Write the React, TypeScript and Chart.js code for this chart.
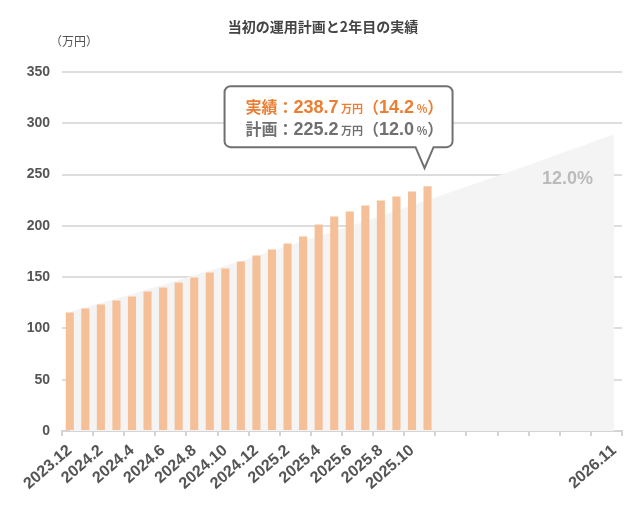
import { useEffect, useRef } from "react"
import { Chart, registerables } from "chart.js"

Chart.register(...registerables)

const chartTitle = "当初の運用計画と2年目の実績"
const unitLabel = "（万円）"

// 2023.12 〜 2026.11 の月
const months = [
  "2023.12",
  "2024.1", "2024.2", "2024.3", "2024.4", "2024.5", "2024.6",
  "2024.7", "2024.8", "2024.9", "2024.10", "2024.11", "2024.12",
  "2025.1", "2025.2", "2025.3", "2025.4", "2025.5", "2025.6",
  "2025.7", "2025.8", "2025.9", "2025.10", "2025.11", "2025.12",
  "2026.1", "2026.2", "2026.3", "2026.4", "2026.5", "2026.6",
  "2026.7", "2026.8", "2026.9", "2026.10", "2026.11",
]

const shownLabels = [
  "2023.12", "2024.2", "2024.4", "2024.6", "2024.8", "2024.10",
  "2024.12", "2025.2", "2025.4", "2025.6", "2025.8", "2025.10", "2026.11",
]

// 実績（万円）
const actualValues = [
  115.5, 119.4, 123.3, 127.2, 131.1, 136.0, 139.9, 144.7, 149.6, 154.5, 158.4, 165.2,
  171.1, 176.9, 182.7, 189.6, 201.3, 209.1, 214.0, 219.8, 224.7, 228.6, 233.4, 238.7,
]

// 当初の運用計画（万円）
const planValues = [
  116.0, 120.4, 124.7, 129.1, 133.6, 138.1, 142.6, 147.2, 151.8, 156.4, 161.0, 165.7,
  170.5, 175.2, 180.0, 184.9, 189.8, 194.7, 199.6, 204.6, 209.6, 214.7, 219.8, 225.2,
  230.4, 235.6, 240.8, 246.1, 251.4, 256.7, 262.1, 267.5, 272.9, 278.4, 283.9, 289.4,
]

const yMin = 0
const yMax = 350
const yStep = 50

const actualRate = "14.2"
const planRate = "12.0"

const jpFont = "'Noto Sans CJK JP', 'Noto Sans', sans-serif"
const numFont = "'Liberation Sans', Arial, sans-serif"
const orange = "#ED7D31"
const grey = "#707070"

const overlayPlugin = {
  id: "overlay",
  afterDraw(chart: any) {
    const { ctx } = chart
    const x = chart.scales.x
    const y = chart.scales.y
    ctx.save()

    // タイトル・単位
    ctx.fillStyle = "#444"
    ctx.font = `bold 14px ${jpFont}`
    ctx.textAlign = "center"
    ctx.textBaseline = "middle"
    ctx.fillText(chartTitle, 323, 27)
    ctx.fillStyle = "#555"
    ctx.font = `12px ${jpFont}`
    ctx.textAlign = "left"
    ctx.fillText(unitLabel, 50, 41)

    // 計画の利回り
    ctx.fillStyle = "#BBBBBB"
    ctx.font = `bold 18px ${numFont}`
    ctx.textAlign = "center"
    ctx.fillText(`${planRate}%`, x.getPixelForValue(32), y.getPixelForValue(246))

    // 吹き出し
    const last = actualValues.length - 1
    const bx = x.getPixelForValue(last) - 3
    const tipY = y.getPixelForValue(actualValues[last]) - 18
    const bottom = tipY - 21
    const top = bottom - 61
    const left = bx - 200
    const right = bx + 28
    const r = 6
    ctx.beginPath()
    ctx.moveTo(left + r, top)
    ctx.lineTo(right - r, top)
    ctx.arcTo(right, top, right, top + r, r)
    ctx.lineTo(right, bottom - r)
    ctx.arcTo(right, bottom, right - r, bottom, r)
    ctx.lineTo(bx + 9, bottom)
    ctx.lineTo(bx, tipY)
    ctx.lineTo(bx - 9, bottom)
    ctx.lineTo(left + r, bottom)
    ctx.arcTo(left, bottom, left, bottom - r, r)
    ctx.lineTo(left, top + r)
    ctx.arcTo(left, top, left + r, top, r)
    ctx.closePath()
    ctx.fillStyle = "#fff"
    ctx.fill()
    ctx.lineWidth = 2
    ctx.strokeStyle = grey
    ctx.stroke()

    const drawRun = (parts: [string, string][], color: string, px: number, py: number) => {
      ctx.textAlign = "left"
      ctx.textBaseline = "alphabetic"
      ctx.fillStyle = color
      for (const [text, font] of parts) {
        ctx.font = font
        ctx.fillText(text, px, py)
        px += ctx.measureText(text).width
      }
    }
    const big = `bold 18px ${numFont}`
    const jp = `bold 16px ${jpFont}`
    const small = `bold 11px ${jpFont}`
    drawRun(
      [["実績：", jp], [actualValues[last].toFixed(1), big], [" 万円", small], ["（", jp], [actualRate, big], [" %", small], ["）", jp]],
      orange, left + 21, top + 27,
    )
    drawRun(
      [["計画：", jp], [planValues[last].toFixed(1), big], [" 万円", small], ["（", jp], [planRate, big], [" %", small], ["）", jp]],
      grey, left + 21, top + 49,
    )
    ctx.restore()
  },
}

export default function App() {
  const chartRef = useRef<HTMLCanvasElement>(null)
  const chartInstance = useRef<Chart | null>(null)

  useEffect(() => {
    document.body.style.margin = "0"
    if (!chartRef.current) return
    if (chartInstance.current) chartInstance.current.destroy()

    chartInstance.current = new Chart(chartRef.current, {
      type: "bar",
      data: {
        labels: months,
        datasets: [
          {
            type: "bar",
            label: "実績",
            data: actualValues,
            backgroundColor: "#F5BF98",
            barPercentage: 0.52,
            categoryPercentage: 1,
            order: 0,
          },
          {
            type: "line",
            label: "計画",
            data: planValues,
            backgroundColor: "#F4F4F4",
            borderWidth: 0,
            pointRadius: 0,
            fill: "origin",
            order: 1,
          } as any,
        ],
      },
      options: {
        animation: false,
        responsive: true,
        maintainAspectRatio: false,
        layout: { padding: { top: 72, left: 8, right: 22, bottom: 0 } },
        plugins: {
          legend: { display: false },
          tooltip: { enabled: false },
          title: { display: false },
        },
        scales: {
          x: {
            offset: true,
            afterFit: (scale: any) => {
              scale.height = 76
            },
            border: { color: "#D4D4D4", width: 2 },
            grid: {
              offset: true,
              drawOnChartArea: false,
              drawTicks: true,
              tickLength: 5,
              lineWidth: 2,
              color: "#D4D4D4",
              tickColor: (c: any) =>
                c.index === undefined || c.index % 2 === 0 ? "#D4D4D4" : "rgba(0,0,0,0)",
            },
            ticks: {
              autoSkip: false,
              minRotation: 41,
              maxRotation: 41,
              padding: 5,
              color: "#555",
              font: { family: numFont, size: 16, weight: "bold" },
              callback: (_v: any, i: number) => (shownLabels.includes(months[i]) ? months[i] : ""),
            },
          },
          y: {
            min: yMin,
            max: yMax,
            afterFit: (scale: any) => {
              scale.width = 54
            },
            border: { display: false },
            grid: { color: "#DDDDDD", lineWidth: 2, drawTicks: false },
            ticks: {
              stepSize: yStep,
              padding: 12,
              color: "#555",
              font: { family: numFont, size: 14, weight: "bold" },
            },
          },
        },
      },
      plugins: [overlayPlugin],
    })

    return () => {
      if (chartInstance.current) {
        chartInstance.current.destroy()
        chartInstance.current = null
      }
    }
  }, [])

  return (
    <div style={{ position: "relative", width: 644, height: 507 }}>
      <canvas ref={chartRef} />
    </div>
  )
}
